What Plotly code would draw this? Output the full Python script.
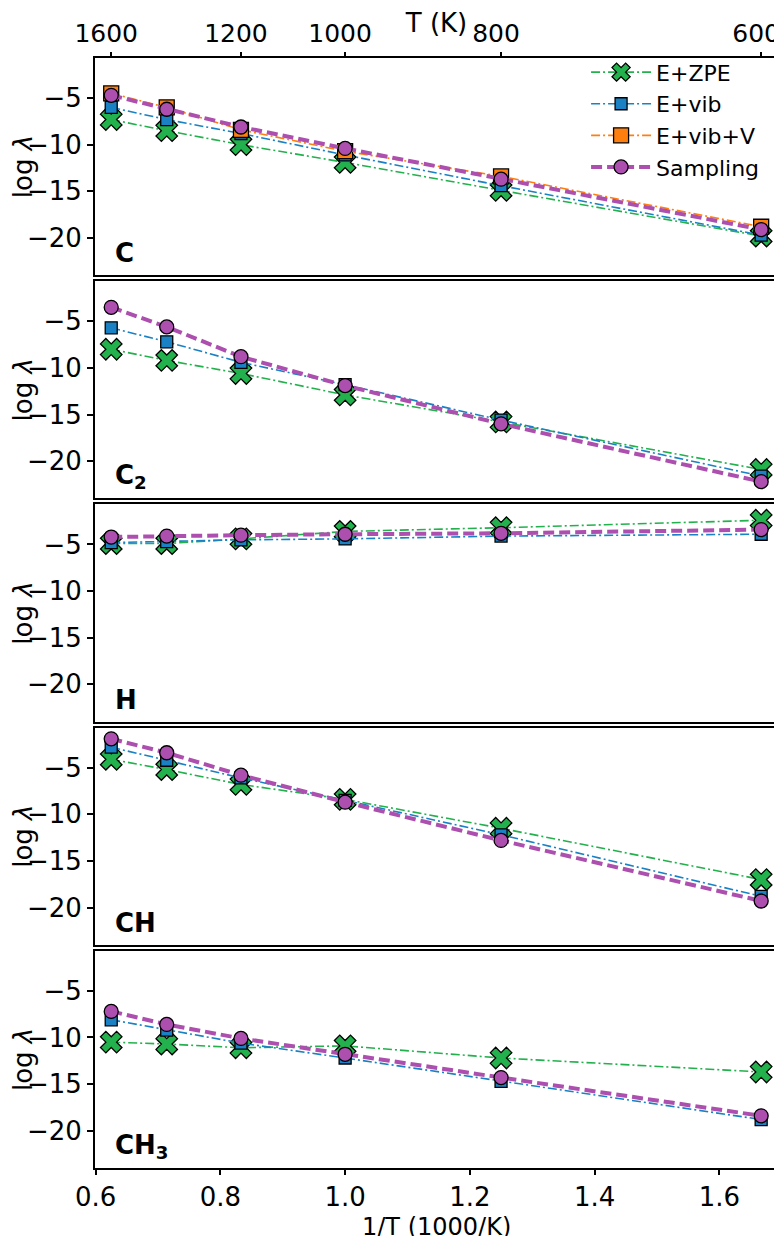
import plotly.graph_objects as go
from plotly.subplots import make_subplots

# 1/T in 1000/K, for T = 1600, 1400, 1200, 1000, 800, 600 K
inv_t = [0.625, 0.714, 0.833, 1.0, 1.25, 1.667]

# top axis ticks
top_temps = [1600, 1200, 1000, 800, 600]
top_pos = [0.625, 0.833, 1.0, 1.25, 1.667]

# log lambda
c_zpe = [-7.3, -8.5, -10.0, -11.9, -14.9, -19.8]
c_vib = [-6.0, -7.3, -8.8, -11.1, -14.4, -19.7]
c_vibv = [-4.5, -6.0, -8.4, -10.7, -13.4, -18.8]
c_samp = [-4.7, -6.2, -8.1, -10.4, -13.7, -19.1]

c2_zpe = [-8.0, -9.2, -10.6, -12.9, -15.8, -20.9]
c2_vib = [-5.7, -7.2, -9.4, -11.8, -15.6, -21.6]
c2_samp = [-3.5, -5.6, -8.8, -11.9, -16.0, -22.2]

h_zpe = [-4.9, -4.9, -4.4, -3.6, -3.2, -2.4]
h_vib = [-4.8, -4.7, -4.5, -4.4, -4.1, -3.9]
h_samp = [-4.2, -4.1, -4.0, -3.9, -3.8, -3.4]

ch_zpe = [-4.1, -5.2, -6.8, -8.4, -11.5, -17.0]
ch_vib = [-2.8, -4.2, -6.1, -8.5, -12.2, -18.8]
ch_samp = [-1.9, -3.4, -5.8, -8.7, -12.8, -19.3]

ch3_zpe = [-10.5, -10.7, -11.1, -10.9, -12.2, -13.7]
ch3_vib = [-8.1, -9.2, -10.6, -12.2, -14.7, -18.8]
ch3_samp = [-7.2, -8.6, -10.1, -11.8, -14.3, -18.4]

panels = [
    ("C", c_zpe, c_vib, c_vibv, c_samp),
    ("C<sub>2</sub>", c2_zpe, c2_vib, None, c2_samp),
    ("H", h_zpe, h_vib, None, h_samp),
    ("CH", ch_zpe, ch_vib, None, ch_samp),
    ("CH<sub>3</sub>", ch3_zpe, ch3_vib, None, ch3_samp),
]

green = "#22b14c"
blue = "#1a82c4"
orange = "#ff7f0e"
purple = "#ac4fae"
dashdot = "9px,3px,2px,3px"
font = "DejaVu Sans"
xrange = [0.599, 1.694]

fig = make_subplots(rows=5, cols=1, shared_xaxes=True, vertical_spacing=0.0054)

for i, (label, zpe, vib, vibv, samp) in enumerate(panels):
    row = i + 1
    first = i == 0
    fig.add_trace(go.Scatter(
        x=inv_t, y=zpe, name="E+ZPE", mode="lines+markers", showlegend=first,
        line=dict(color=green, width=1.6, dash=dashdot),
        marker=dict(symbol="x", size=19, color=green, line=dict(color="black", width=1.3))),
        row=row, col=1)
    fig.add_trace(go.Scatter(
        x=inv_t, y=vib, name="E+vib", mode="lines+markers", showlegend=first,
        line=dict(color=blue, width=1.6, dash=dashdot),
        marker=dict(symbol="square", size=12, color=blue, line=dict(color="black", width=1.3))),
        row=row, col=1)
    if vibv is not None:
        fig.add_trace(go.Scatter(
            x=inv_t, y=vibv, name="E+vib+V", mode="lines+markers", showlegend=first,
            line=dict(color=orange, width=1.6, dash=dashdot),
            marker=dict(symbol="square", size=15, color=orange, line=dict(color="black", width=1.3))),
            row=row, col=1)
    fig.add_trace(go.Scatter(
        x=inv_t, y=samp, name="Sampling", mode="lines+markers", showlegend=first,
        line=dict(color=purple, width=4, dash="11px,5px"),
        marker=dict(symbol="circle", size=14, color=purple, line=dict(color="black", width=1.3))),
        row=row, col=1)

    fig.add_annotation(
        text="<b>" + label + "</b>", xref="x domain" if row == 1 else f"x{row} domain",
        yref="y domain" if row == 1 else f"y{row} domain",
        x=0.026, y=0.10, xanchor="left", yanchor="middle", showarrow=False,
        font=dict(family=font, size=26, color="black"))

    fig.update_yaxes(
        range=[-24, -0.7], tickvals=[-5, -10, -15, -20], ticktext=["\u22125", "\u221210", "\u221215", "\u221220"],
        showline=True, mirror=True, linecolor="black", linewidth=2,
        ticks="outside", ticklen=6, tickwidth=1.5, tickcolor="black",
        showgrid=False, zeroline=False, automargin=False,
        title=dict(text="log <i>λ</i>", standoff=12, font=dict(family=font, size=26)),
        tickfont=dict(family=font, size=26, color="black"),
        row=row, col=1)
    fig.update_xaxes(
        range=xrange, showline=True, mirror=True, linecolor="black", linewidth=2,
        showgrid=False, zeroline=False, automargin=False, ticks="" if row < 5 else "outside",
        showticklabels=(row == 5), row=row, col=1)

fig.update_xaxes(
    tickvals=[0.6, 0.8, 1.0, 1.2, 1.4, 1.6], ticktext=["0.6", "0.8", "1.0", "1.2", "1.4", "1.6"],
    ticklen=5, tickwidth=1.5, tickcolor="black",
    tickfont=dict(family=font, size=26, color="black"),
    row=5, col=1)

# bottom axis title, placed by hand below the tick labels
fig.add_annotation(
    text="1/T (1000/K)", xref="paper", yref="paper", x=0.5, y=-0.053,
    xanchor="center", yanchor="middle", showarrow=False,
    font=dict(family=font, size=24, color="black"))

# top temperature axis
fig.add_trace(go.Scatter(x=inv_t, y=[None] * len(inv_t), xaxis="x6", yaxis="y",
                         showlegend=False, hoverinfo="skip", mode="lines"))
fig.update_layout(xaxis6=dict(
    overlaying="x", side="top", anchor="y", range=xrange, automargin=False,
    tickvals=top_pos, ticktext=[str(t) for t in top_temps],
    ticks="outside", ticklen=5, tickwidth=1.5, tickcolor="black",
    ticklabelshift=-5, ticklabeloverflow="allow",
    showgrid=False, zeroline=False, showline=False,
    tickfont=dict(family=font, size=25, color="black"),
    title=dict(text="T (K)", standoff=1, font=dict(family=font, size=26))))

# page body keeps an 8px margin, so the figure is offset by that amount
fig.update_layout(
    width=782, height=1228,
    margin=dict(l=87, r=12, t=50, b=68),
    plot_bgcolor="white", paper_bgcolor="white",
    font=dict(family=font, color="black"),
    legend=dict(x=0.719, y=1.006, xanchor="left", yanchor="top",
                font=dict(family=font, size=22, color="black"),
                bgcolor="rgba(255,255,255,0)", itemwidth=60, tracegroupgap=0),
)

fig.write_html("out.html")
